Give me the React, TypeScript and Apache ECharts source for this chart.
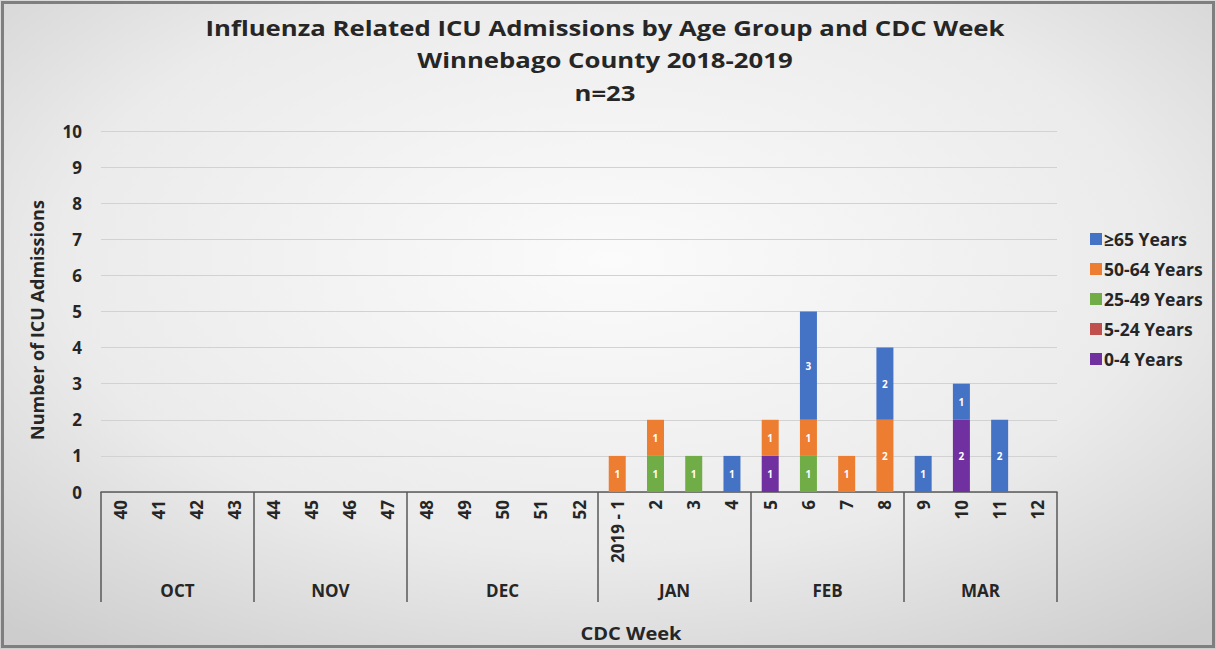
import React, { useEffect, useRef } from "react";
import * as echarts from "echarts";

const weeks = [
  "40", "41", "42", "43", "44", "45", "46", "47", "48", "49", "50", "51", "52",
  "2019 - 1", "2", "3", "4", "5", "6", "7", "8", "9", "10", "11", "12",
];
const months = ["OCT", "NOV", "DEC", "JAN", "FEB", "MAR"];
const monthWeekCounts = [4, 4, 5, 4, 4, 4];

const age0to4 = [0, 0, 0, 0, 0, 0, 0, 0, 0, 0, 0, 0, 0, 0, 0, 0, 0, 1, 0, 0, 0, 0, 2, 0, 0];
const age5to24 = [0, 0, 0, 0, 0, 0, 0, 0, 0, 0, 0, 0, 0, 0, 0, 0, 0, 0, 0, 0, 0, 0, 0, 0, 0];
const age25to49 = [0, 0, 0, 0, 0, 0, 0, 0, 0, 0, 0, 0, 0, 0, 1, 1, 0, 0, 1, 0, 0, 0, 0, 0, 0];
const age50to64 = [0, 0, 0, 0, 0, 0, 0, 0, 0, 0, 0, 0, 0, 1, 1, 0, 0, 1, 1, 1, 2, 0, 0, 0, 0];
const age65plus = [0, 0, 0, 0, 0, 0, 0, 0, 0, 0, 0, 0, 0, 0, 0, 0, 1, 0, 3, 0, 2, 1, 1, 2, 0];

const yTicks = [0, 1, 2, 3, 4, 5, 6, 7, 8, 9, 10];

const titleLines = [
  "Influenza Related ICU Admissions by Age Group and CDC Week",
  "Winnebago County 2018-2019",
  "n=23",
];
const yAxisTitle = "Number of ICU Admissions";
const xAxisTitle = "CDC Week";

const seriesDefs = [
  { name: "0-4 Years", data: age0to4, color: "#7030A0" },
  { name: "5-24 Years", data: age5to24, color: "#C0504D" },
  { name: "25-49 Years", data: age25to49, color: "#70AD47" },
  { name: "50-64 Years", data: age50to64, color: "#ED7D31" },
  { name: "≥65 Years", data: age65plus, color: "#4472C4" },
];

export default function App() {
  const ref = useRef<HTMLDivElement>(null);

  useEffect(() => {
    if (!ref.current) return;
    const chart = echarts.init(ref.current, undefined, { renderer: "svg" });

    const boundaries: number[] = [0];
    const centers: number[] = [];
    monthWeekCounts.forEach((c) => {
      const start = boundaries[boundaries.length - 1];
      centers.push(start + c / 2);
      boundaries.push(start + c);
    });

    const axisFont = "'Open Sans', sans-serif";
    const textColor = "#262626";
    const titleY = [27, 59, 92];

    chart.setOption({
      animation: false,
      backgroundColor: {
        type: "radial",
        x: 0.5,
        y: 0.4,
        r: 0.75,
        colorStops: [
          { offset: 0, color: "#fbfbfb" },
          { offset: 0.6, color: "#ebebeb" },
          { offset: 1, color: "#cdcdcd" },
        ],
      },
      graphic: [
        {
          type: "rect",
          shape: { x: 2.5, y: 2.5, width: 1211, height: 644 },
          style: { fill: "none", stroke: "#7f7f7f", lineWidth: 3 },
          silent: true,
        },
        ...titleLines.map((t, i) => ({
          type: "text",
          x: 605,
          y: titleY[i],
          scaleX: 1.17,
          silent: true,
          style: {
            text: t,
            textAlign: "center",
            textVerticalAlign: "middle",
            fontFamily: axisFont,
            fontWeight: "bold",
            fontSize: 22,
            fill: textColor,
          },
        })),
        {
          type: "text",
          x: 631,
          y: 633,
          scaleX: 1.18,
          silent: true,
          style: {
            text: xAxisTitle,
            textAlign: "center",
            textVerticalAlign: "middle",
            fontFamily: axisFont,
            fontWeight: "bold",
            fontSize: 17,
            fill: textColor,
          },
        },
        {
          type: "text",
          x: 37,
          y: 320,
          rotation: Math.PI / 2,
          silent: true,
          style: {
            text: yAxisTitle,
            textAlign: "center",
            textVerticalAlign: "middle",
            fontFamily: axisFont,
            fontWeight: "bold",
            fontSize: 18,
            fill: textColor,
          },
        },
      ],
      legend: {
        orient: "vertical",
        left: 1085,
        top: 225,
        itemWidth: 12,
        itemHeight: 12,
        itemGap: 12,
        icon: "rect",
        data: [...seriesDefs].reverse().map((s) => s.name),
        textStyle: {
          fontFamily: axisFont,
          fontWeight: "bold",
          fontSize: 17.5,
          color: textColor,
          padding: [0, 0, 0, -3],
        },
      },
      grid: { left: 101, right: 159, top: 131, bottom: 157 },
      xAxis: [
        {
          type: "category",
          data: weeks,
          position: "bottom",
          axisLine: { show: true, lineStyle: { color: "#595959", width: 1.5 } },
          axisTick: { show: false },
          axisLabel: {
            interval: 0,
            rotate: 90,
            margin: 8,
            fontFamily: axisFont,
            fontWeight: "bold",
            fontSize: 17,
            color: textColor,
          },
        },
        {
          type: "value",
          min: 0,
          max: weeks.length,
          position: "bottom",
          axisLine: { show: false },
          splitLine: { show: false },
          axisTick: {
            show: true,
            inside: false,
            length: 110,
            customValues: boundaries,
            lineStyle: { color: "#595959", width: 1.5 },
          },
          axisLabel: {
            show: true,
            customValues: centers,
            margin: 90,
            formatter: (v: number) => {
              const i = centers.findIndex((c) => Math.abs(c - v) < 1e-6);
              return i >= 0 ? months[i] : "";
            },
            fontFamily: axisFont,
            fontWeight: "bold",
            fontSize: 17,
            color: textColor,
          },
        },
      ],
      yAxis: {
        type: "value",
        min: 0,
        max: 10,
        interval: 1,
        axisLine: { show: false },
        axisTick: { show: false },
        axisLabel: {
          margin: 19,
          fontFamily: axisFont,
          fontWeight: "bold",
          fontSize: 17,
          color: textColor,
          formatter: (v: number) => (yTicks.includes(v) ? String(v) : ""),
        },
        splitLine: { show: true, lineStyle: { color: "#d2d2d2", width: 1 } },
      },
      series: seriesDefs.map((s) => ({
        name: s.name,
        type: "bar",
        stack: "total",
        xAxisIndex: 0,
        data: s.data,
        barWidth: 17,
        itemStyle: { color: s.color },
        label: {
          show: true,
          position: "inside",
          color: "#ffffff",
          fontFamily: axisFont,
          fontWeight: "bold",
          fontSize: 10,
          formatter: (p: any) => (p.value > 0 ? String(p.value) : ""),
        },
      })),
    });

    return () => chart.dispose();
  }, []);

  return (
    <div
      ref={ref}
      style={{ position: "absolute", left: 0, top: 0, width: 1216, height: 649 }}
    />
  );
}
